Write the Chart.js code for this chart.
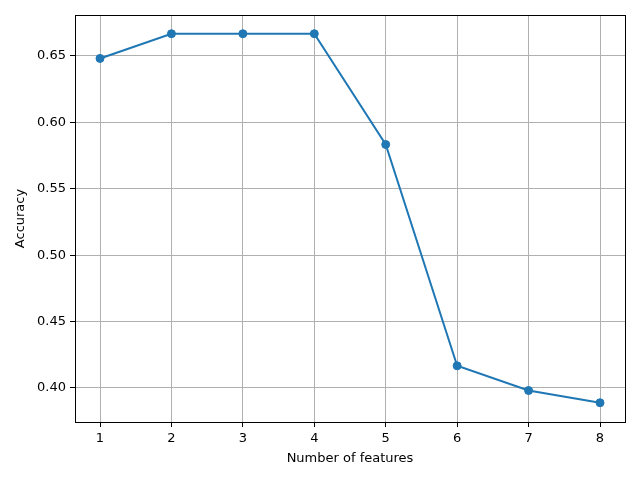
<!DOCTYPE html>
<html>
<head>
<meta charset="utf-8">
<script src="https://cdn.jsdelivr.net/npm/chart.js@4.4.0/dist/chart.umd.min.js"></script>
<style>
  html, body { margin: 0; padding: 0; background: #fff; }
  #wrap { width: 640px; height: 480px; }
</style>
</head>
<body>
<div id="wrap"><canvas id="accChart" width="640" height="480"></canvas></div>
<script>
// values
var numFeatures = [1, 2, 3, 4, 5, 6, 7, 8];
var accuracy = [0.6481, 0.6667, 0.6667, 0.6667, 0.5833, 0.4167, 0.3981, 0.3889];
var xTicks = [1, 2, 3, 4, 5, 6, 7, 8];
var yTicks = [0.40, 0.45, 0.50, 0.55, 0.60, 0.65];

// black box around the plot area, like matplotlib's spines
var frame = {
    id: 'frame',
    afterDraw: function (chart) {
        var a = chart.chartArea;
        var ctx = chart.ctx;
        ctx.save();
        ctx.strokeStyle = '#000';
        ctx.lineWidth = 1;
        ctx.strokeRect(Math.round(a.left) + 0.5, Math.round(a.top) + 0.5,
            Math.round(a.right - a.left), Math.round(a.bottom - a.top));
        ctx.restore();
    }
};

Chart.defaults.font.family = 'DejaVu Sans';
Chart.defaults.font.size = 13;
Chart.defaults.color = '#000';

var ctx = document.getElementById('accChart');
var accChart = new Chart(ctx, {
    type: 'line',
    data: {
        datasets: [{
            label: 'Accuracy',
            data: numFeatures.map(function (n, i) { return { x: n, y: accuracy[i] }; }),
            borderColor: '#1f77b4',
            backgroundColor: '#1f77b4',
            borderWidth: 2,
            pointRadius: 4,
            pointHoverRadius: 4,
            pointBorderWidth: 1,
            fill: false,
            tension: 0
        }]
    },
    options: {
        responsive: false,
        animation: false,
        layout: { padding: { top: 15, right: 15, left: 0, bottom: 0 } },
        plugins: {
            legend: { display: false },
            tooltip: { enabled: false }
        },
        scales: {
            x: {
                type: 'linear',
                min: 0.65,
                max: 8.35,
                afterBuildTicks: function (axis) {
                    axis.ticks = xTicks.map(function (v) { return { value: v }; });
                },
                afterFit: function (axis) { axis.height = 58; },
                ticks: { padding: 4, maxRotation: 0 },
                grid: { color: '#b0b0b0', lineWidth: 1, tickColor: '#000', tickLength: 5 },
                border: { display: false },
                title: { display: true, text: 'Number of features', padding: { top: 0, bottom: 14 } }
            },
            y: {
                min: 0.3744,
                max: 0.6808,
                afterBuildTicks: function (axis) {
                    axis.ticks = yTicks.map(function (v) { return { value: v }; });
                },
                afterFit: function (axis) { axis.width = 75; },
                ticks: {
                    padding: 4,
                    callback: function (v) { return v.toFixed(2); }
                },
                grid: { color: '#b0b0b0', lineWidth: 1, tickColor: '#000', tickLength: 5 },
                border: { display: false },
                title: { display: true, text: 'Accuracy', padding: { top: 13, bottom: 4 } }
            }
        }
    },
    plugins: [frame]
});
</script>
</body>
</html>
